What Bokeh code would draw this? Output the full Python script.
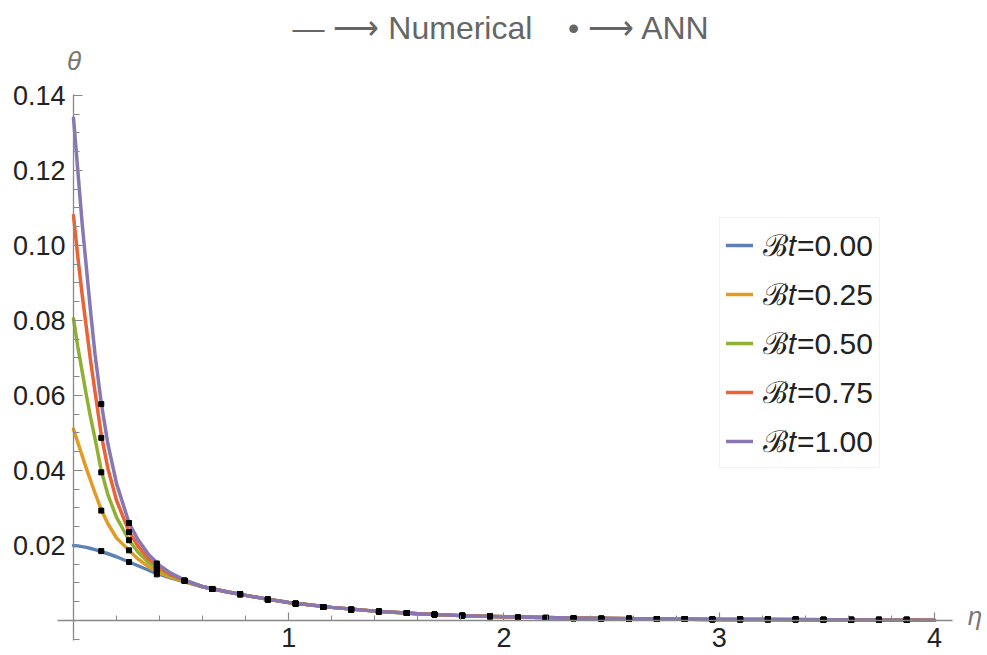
from bokeh.plotting import figure
from bokeh.models import (FixedTicker, PrintfTickFormatter, Label, Legend,
                          LegendItem, Range1d)
from bokeh.embed import file_html
from bokeh.resources import INLINE

# ---------------- data ----------------
eta = [0.0, 0.02, 0.04, 0.06, 0.08, 0.10, 0.129, 0.16, 0.20, 0.258, 0.30,
       0.35, 0.40, 0.45, 0.516, 0.60, 0.70, 0.80, 0.90, 1.00, 1.20, 1.40,
       1.60, 1.80, 2.00, 2.30, 2.60, 3.00, 3.50, 4.00]

theta_tail = [0.0090, 0.0078, 0.0067, 0.0057, 0.0048, 0.0035, 0.0025,
              0.0018, 0.0013, 0.0010, 0.0007, 0.0005, 0.0003, 0.0002, 0.0001]

theta_bt000 = [0.0200, 0.0199, 0.0197, 0.0195, 0.0192, 0.0189, 0.0184, 0.0178,
               0.0170, 0.0156, 0.0146, 0.0134, 0.0123, 0.0114, 0.0103] + theta_tail
theta_bt025 = [0.0510, 0.0475, 0.0440, 0.0405, 0.0372, 0.0340, 0.0295, 0.0258,
               0.0220, 0.0187, 0.0164, 0.0143, 0.0127, 0.0116, 0.0104] + theta_tail
theta_bt050 = [0.0805, 0.0730, 0.0665, 0.0600, 0.0540, 0.0485, 0.0400, 0.0335,
               0.0275, 0.0214, 0.0182, 0.0154, 0.0134, 0.0120, 0.0106] + theta_tail
theta_bt075 = [0.1080, 0.0970, 0.0870, 0.0780, 0.0690, 0.0610, 0.0495, 0.0405,
               0.0320, 0.0237, 0.0198, 0.0164, 0.0140, 0.0123, 0.0107] + theta_tail
theta_bt100 = [0.1340, 0.1200, 0.1060, 0.0940, 0.0820, 0.0710, 0.0580, 0.0470,
               0.0365, 0.0260, 0.0215, 0.0175, 0.0147, 0.0127, 0.0108] + theta_tail

ann_eta = [0.129, 0.258, 0.387, 0.516, 0.645, 0.774, 0.903, 1.032, 1.161,
           1.290, 1.419, 1.548, 1.677, 1.806, 1.935, 2.065, 2.194, 2.323,
           2.452, 2.581, 2.710, 2.839, 2.968, 3.097, 3.226, 3.355, 3.484,
           3.613, 3.742, 3.871]
ann_tail = [0.0106, 0.0084, 0.0070, 0.0056, 0.0045, 0.0036, 0.0029, 0.0024,
            0.0020, 0.0016, 0.0013, 0.0011, 0.0008, 0.0007, 0.0006, 0.0005,
            0.0005, 0.0004, 0.0004, 0.0003, 0.0003, 0.0003, 0.0003, 0.0002,
            0.0002, 0.0002, 0.0002]
ann_bt000 = [0.0185, 0.0156, 0.0123] + ann_tail
ann_bt025 = [0.0293, 0.0187, 0.0130] + ann_tail
ann_bt050 = [0.0395, 0.0214, 0.0138] + ann_tail
ann_bt075 = [0.0487, 0.0236, 0.0145] + ann_tail
ann_bt100 = [0.0577, 0.0260, 0.0152] + ann_tail

series_labels = ["\u212C\U0001D461=0.00", "\u212C\U0001D461=0.25",
                 "\u212C\U0001D461=0.50", "\u212C\U0001D461=0.75",
                 "\u212C\U0001D461=1.00"]
series_colors = ["#5E81B5", "#E19C24", "#8FB032", "#EB6235", "#8778B3"]

x_major = [1, 2, 3, 4]
y_major = [0.02, 0.04, 0.06, 0.08, 0.10, 0.12, 0.14]

title_text = "\u2014 \u27F6 Numerical\u00a0\u00a0\u00a0\u00a0\u2022 \u27F6 ANN"

FONT = "Liberation Sans"

# ---------------- figure ----------------
# the frame covers the whole canvas; the axes cross at the origin
p = figure(width=987, height=655, output_backend="svg", toolbar_location=None,
           title=None,
           x_range=Range1d(-0.33914, 4.24623), y_range=Range1d(-0.009333, 0.16533))
p.min_border = 0
p.outline_line_color = None
p.xgrid.visible = False
p.ygrid.visible = False
p.background_fill_color = "white"
p.border_fill_color = "white"

for ax in (p.xaxis[0], p.yaxis[0]):
    ax.fixed_location = 0
    ax.axis_line_color = "#888888"
    ax.axis_line_width = 1.3
    ax.major_tick_line_color = "#888888"
    ax.minor_tick_line_color = "#888888"
    ax.major_tick_line_width = 1.2
    ax.minor_tick_line_width = 1.0
    ax.major_tick_out = 0
    ax.minor_tick_out = 0
    ax.major_label_text_font = FONT
    ax.major_label_text_font_size = "27px"
    ax.major_label_text_color = "#222222"

xa = p.xaxis[0]
xa.bounds = (-0.0743, 4.082)
xa.ticker = FixedTicker(ticks=x_major,
                        minor_ticks=[round(0.2 * i, 1) for i in range(1, 20) if i % 5])
xa.formatter = PrintfTickFormatter(format="%d")
xa.major_tick_in = 8
xa.minor_tick_in = 5
xa.major_label_standoff = 7

ya = p.yaxis[0]
ya.bounds = (-0.0053, 0.1402)
ya.ticker = FixedTicker(ticks=y_major,
                        minor_ticks=[round(0.005 * i, 3) for i in range(-1, 28) if i % 4])
ya.formatter = PrintfTickFormatter(format="%.2f")
ya.major_tick_in = 9
ya.minor_tick_in = 6
ya.major_label_standoff = 8

# ---------------- curves and ANN points ----------------
curves = [theta_bt000, theta_bt025, theta_bt050, theta_bt075, theta_bt100]
anns = [ann_bt000, ann_bt025, ann_bt050, ann_bt075, ann_bt100]
renderers = []
for ys, col in zip(curves, series_colors):
    renderers.append(p.line(eta, ys, line_color=col, line_width=3.5,
                            line_join="round", line_cap="round"))
for ys in anns:
    p.scatter(ann_eta, ys, marker="square", size=5, fill_color="black",
              line_color="black")

legend = Legend(items=[LegendItem(label=lab, renderers=[r])
                       for lab, r in zip(series_labels, renderers)],
                location=(719, 187))
legend.label_text_font = FONT
legend.label_text_font_size = "30px"
legend.label_text_color = "#222222"
legend.glyph_width = 27
legend.glyph_height = 34
legend.label_height = 34
legend.label_standoff = 10
legend.spacing = 8
legend.padding = 6
legend.margin = 0
legend.border_line_color = "#e6e6e6"
legend.border_line_width = 1
legend.background_fill_color = "white"
legend.background_fill_alpha = 1.0
p.add_layout(legend)

# title and axis names
p.add_layout(Label(x=1.9884, y=0.15813, text=title_text,
                   text_font=FONT, text_font_size="32px", text_color="#666666",
                   text_align="center", text_baseline="middle"))
p.add_layout(Label(x=0.0023, y=0.1491, text="\u03B8",
                   text_font=FONT, text_font_style="italic",
                   text_font_size="26px", text_color="#777777",
                   text_align="center", text_baseline="middle"))
p.add_layout(Label(x=4.155, y=0, y_offset=5, text="\u03B7",
                   text_font=FONT, text_font_style="italic",
                   text_font_size="26px", text_color="#777777",
                   text_align="left", text_baseline="middle"))

open("out.html", "w").write(file_html(p, INLINE))
